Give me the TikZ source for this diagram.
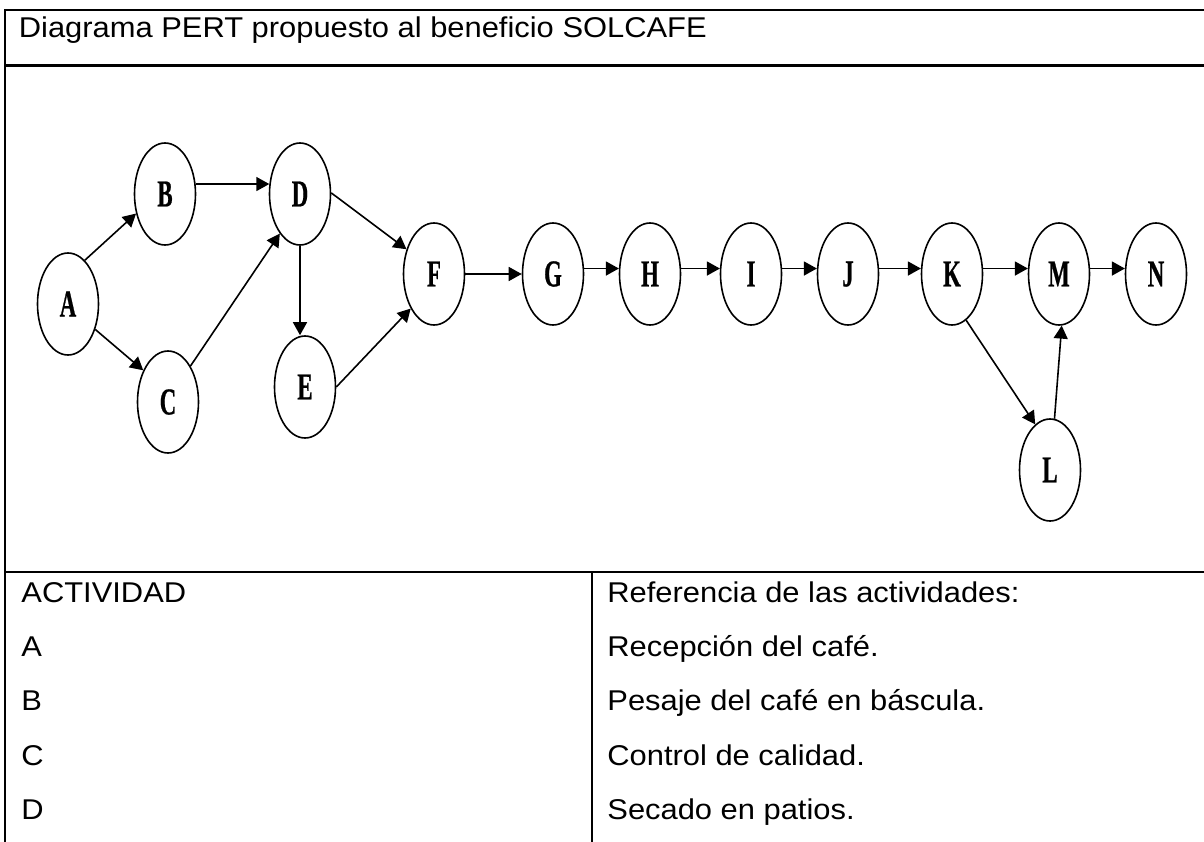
\documentclass[tikz,border=0pt]{standalone}
\usepackage{fontspec}
\setmainfont{Liberation Sans}[FakeStretch=1.08]
\newfontfamily\letra{Liberation Serif Bold}[FakeStretch=0.6, FakeBold=0.6]
\usepackage{tikz}
\usetikzlibrary{arrows.meta, shapes.geometric, positioning}

\begin{document}
\begin{tikzpicture}[x=0.5pt, y=-0.5pt,
        evento/.style={draw, ellipse, line width=0.8pt, minimum width=30.5pt, minimum height=51pt, inner sep=0pt, font=\letra\fontsize{19}{19}\selectfont},
        flecha/.style={-{Stealth[length=6.5pt, width=7pt, inset=0pt]}, line width=0.8pt},
        borde/.style={line width=1.1pt},
        texto/.style={anchor=base west, inner sep=0pt, font=\fontsize{14.3}{17}\selectfont}]
        %限定輸出區塊
        \useasboundingbox (0,0) rectangle (1204,841);
        \clip (0,0) rectangle (1204,841);

        \draw[borde] (1210,10) -- (5,10) -- (5,850);
        \draw[borde] (5,65.5) -- (1210,65.5);
        \draw[borde] (5,572) -- (1210,572);
        \draw[borde] (592,572) -- (592,850);

        \node[texto] (titulo) at (18.5,37.7) {Diagrama PERT propuesto al beneficio SOLCAFE};

        \foreach \n/\act/\desc/\y in
        {0/ACTIVIDAD/Referencia de las actividades:/602, 1/A/Recepción del café./656, 2/B/Pesaje del café en báscula./710.5, 3/C/Control de calidad./765, 4/D/Secado en patios./819}
        {
            \node[texto] (act\n) at (21,\y) {\act};
            \node[texto] (ref\n) at (607,\y) {\desc};
        };

        \foreach \n/\x/\y in
        {A/68/304, B/165/194, C/168/402, D/300/194, E/305/387, F/434/274, G/553/274, H/650/274, I/751/274, J/848/274, K/952/274, M/1059/274, L/1050/470, N/1156/274}
        {
            \node[evento] (\n) at (\x,\y) {\n};
        };

        \foreach \a/\b in
        {A.69/B.214, A.317/C.128, C.58/D.243, B.18/D.162, D.2/F.138, E.0/F.236, F/G, G.10/H.170, H.10/I.170, I.10/J.170, J.10/K.170, K.10/M.170, M.10/N.170, K.287/L.108, L.85/M.273}
        {
            \draw[flecha] (\a) -- (\b);
        };
        \draw[flecha] (D.south) -- (D.south |- E.north);

    \end{tikzpicture}
\end{document}
